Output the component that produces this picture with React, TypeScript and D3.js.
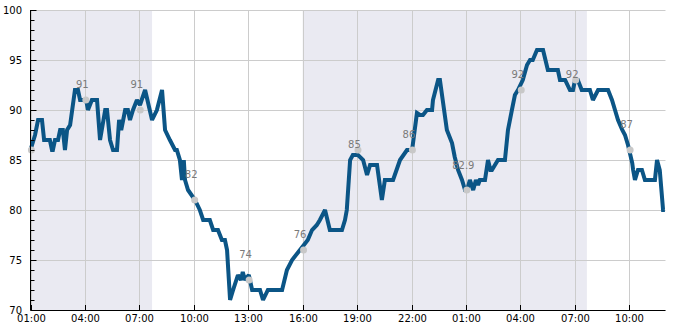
import React from "react";
import * as d3 from "d3";

const times: string[] = [
  "01-01 01:00","01-01 01:15","01-01 01:25","01-01 01:38","01-01 01:45","01-01 02:04","01-01 02:11","01-01 02:14","01-01 02:21","01-01 02:31",
  "01-01 02:38","01-01 02:47","01-01 02:54","01-01 03:01","01-01 03:11","01-01 03:27","01-01 03:37","01-01 03:44","01-01 04:04","01-01 04:10",
  "01-01 04:23","01-01 04:40","01-01 04:50","01-01 05:07","01-01 05:13","01-01 05:23","01-01 05:33","01-01 05:46","01-01 05:53","01-01 06:00",
  "01-01 06:13","01-01 06:22","01-01 06:29","01-01 06:39","01-01 06:52","01-01 07:02","01-01 07:19","01-01 07:42","01-01 07:58","01-01 08:15",
  "01-01 08:25","01-01 08:41","01-01 08:58","01-01 09:04","01-01 09:14","01-01 09:21","01-01 09:27","01-01 09:31","01-01 09:41","01-01 10:04",
  "01-01 10:20","01-01 10:31","01-01 10:53","01-01 11:04","01-01 11:20","01-01 11:33","01-01 11:43","01-01 11:50","01-01 12:00","01-01 12:10",
  "01-01 12:26","01-01 12:36","01-01 12:42","01-01 12:49","01-01 13:02","01-01 13:13","01-01 13:39","01-01 13:49","01-01 14:05","01-01 14:52",
  "01-01 15:08","01-01 15:25","01-01 15:51","01-01 16:17","01-01 16:31","01-01 16:47","01-01 16:57","01-01 17:14","01-01 17:30","01-01 18:10",
  "01-01 18:20","01-01 18:26","01-01 18:37","01-01 18:46","01-01 19:03","01-01 19:20","01-01 19:33","01-01 19:43","01-01 20:06","01-01 20:22",
  "01-01 20:32","01-01 20:59","01-01 21:22","01-01 21:45","01-01 22:02","01-01 22:18","01-01 22:28","01-01 22:38","01-01 22:51","01-01 23:08",
  "01-01 23:11","01-01 23:28","01-01 23:34","01-01 23:57","01-02 00:14","01-02 00:23","01-02 00:34","01-02 00:47","01-02 00:57","01-02 01:04",
  "01-02 01:13","01-02 01:24","01-02 01:33","01-02 01:40","01-02 01:46","01-02 02:03","01-02 02:13","01-02 02:21","01-02 02:26","01-02 02:46",
  "01-02 03:09","01-02 03:19","01-02 03:32","01-02 03:42","01-02 03:52","01-02 04:08","01-02 04:22","01-02 04:32","01-02 04:41","01-02 04:55",
  "01-02 05:15","01-02 05:31","01-02 06:04","01-02 06:11","01-02 06:28","01-02 06:44","01-02 06:54","01-02 07:01","01-02 07:10","01-02 07:23",
  "01-02 07:50","01-02 08:00","01-02 08:17","01-02 08:50","01-02 09:03","01-02 09:13","01-02 09:23","01-02 09:37","01-02 09:46","01-02 09:56",
  "01-02 10:10","01-02 10:13","01-02 10:19","01-02 10:29","01-02 10:42","01-02 10:52","01-02 11:25","01-02 11:32","01-02 11:41","01-02 11:52",
  "01-02 11:58",
];

const values: number[] = [
  86, 87.5, 89, 89, 87, 87, 86, 86, 87, 87,
  88, 88, 86, 88, 88.5, 92, 92, 91, 91, 90,
  91, 91, 87, 90, 90, 87, 86, 86, 89, 88,
  90, 90, 89, 90, 91, 90.5, 92, 89, 90, 92,
  88, 87, 86, 86, 85, 83, 85, 83, 82, 81,
  80, 79, 79, 78, 78, 77, 77, 76, 71, 72,
  73.5, 73, 73.8, 73, 73.5, 72, 72, 71, 72, 72,
  74, 75, 76, 77, 78, 78.5, 79, 80, 78, 78,
  79, 80, 85, 85.5, 85.5, 85, 83.5, 84.5, 84.5, 81,
  83, 83, 85, 86, 86, 89.7, 89.5, 89.5, 90, 90,
  91, 93, 93, 88, 86.7, 85.3, 84, 83, 82, 82,
  83, 82, 83, 82.5, 83, 83, 85, 84, 84, 85,
  85, 88, 90, 91.5, 92, 93, 94.5, 95, 95, 96,
  96, 94, 94, 93, 93, 92, 92, 93, 93, 92,
  92, 91, 92, 92, 91, 90, 89, 88, 87.5, 86.5,
  84.7, 84, 83, 84, 84, 83, 83, 85, 84, 80,
  80,
];

const markerTimes: string[] = [
  "01-01 01:03","01-01 04:03","01-01 07:03","01-01 10:03","01-01 13:03","01-01 16:03",
  "01-01 19:03","01-01 22:03","01-02 01:03","01-02 04:03","01-02 07:03","01-02 10:03",
];
const markerValues: number[] = [86, 91, 90, 81, 73, 76, 86, 86, 82, 92, 93, 86];
const markerLabels: string[] = ["", "91", "91", "82", "74", "76", "85", "86", "82.9", "92", "92", "87"];

const nightStarts: string[] = ["01-01 01:00", "01-01 16:00"];
const nightEnds: string[] = ["01-01 07:42", "01-02 07:40"];

const domainStart = "01-01 01:00";
const domainEnd = "01-02 12:00";
const xTickTimes: string[] = [
  "01-01 01:00","01-01 04:00","01-01 07:00","01-01 10:00","01-01 13:00","01-01 16:00",
  "01-01 19:00","01-01 22:00","01-02 01:00","01-02 04:00","01-02 07:00","01-02 10:00",
];
const yMajorTicks: number[] = [70, 75, 80, 85, 90, 95, 100];

const parse = (s: string) => d3.timeParse("%Y-%m-%d %H:%M")("2024-" + s) as Date;
const fmt = d3.timeFormat("%H:%M");

export default function App() {
  const W = 685, H = 330;
  const L = 30.5, R = 665.5, T = 10, B = 310;
  const x = d3.scaleTime().domain([parse(domainStart), parse(domainEnd)]).range([L, R]);
  const y = d3.scaleLinear().domain([70, 100]).range([B, T]);
  const pts = times.map((t, i) => [x(parse(t)), y(values[i])] as [number, number]);
  const line = d3.line().curve(d3.curveLinear)(pts) || "";
  const minorTicks = d3.range(70, 101, 1);
  const font = "'DejaVu Sans', sans-serif";

  return (
    <svg width={W} height={H} style={{ position: "absolute", left: 0, top: 0, background: "#fff" }} fontFamily={font}>
      {nightStarts.map((s, i) => (
        <rect key={"n" + i} x={x(parse(s))} y={T} width={x(parse(nightEnds[i])) - x(parse(s))} height={B - T} fill="#eaeaf2" />
      ))}
      {yMajorTicks.map((v) => (
        <line key={"gy" + v} x1={L} x2={R} y1={Math.round(y(v)) + 0.5} y2={Math.round(y(v)) + 0.5} stroke="#cccccc" strokeWidth={1} />
      ))}
      {xTickTimes.map((t) => {
        const xx = Math.round(x(parse(t))) + 0.5;
        return <line key={"gx" + t} x1={xx} x2={xx} y1={T} y2={B} stroke="#cccccc" strokeWidth={1} />;
      })}
      <path d={line} fill="none" stroke="#0b5586" strokeWidth={4} strokeLinejoin="miter" strokeMiterlimit={2} strokeLinecap="butt" />
      {markerTimes.map((t, i) => (
        <circle key={"m" + i} cx={x(parse(t))} cy={y(markerValues[i])} r={3.5} fill="#c8c8c8" />
      ))}
      {markerLabels.map((lab, i) =>
        lab ? (
          <text key={"l" + i} x={x(parse(markerTimes[i])) - 3.5} y={y(parseFloat(lab)) - 12} textAnchor="middle" fontSize={10} fill="#7a7a7a">
            {lab}
          </text>
        ) : null
      )}
      <line x1={L} x2={L} y1={T} y2={B} stroke="#000" strokeWidth={1} />
      <line x1={L} x2={R} y1={B + 0.5} y2={B + 0.5} stroke="#000" strokeWidth={1} />
      {minorTicks.map((v) => {
        const yy = Math.round(y(v)) + 0.5;
        const major = v % 5 === 0;
        return <line key={"ty" + v} x1={L} x2={L + (major ? 6 : 4)} y1={yy} y2={yy} stroke="#000" strokeWidth={1} />;
      })}
      {yMajorTicks.map((v) => (
        <text key={"yl" + v} x={22} y={y(v) + 3.5} textAnchor="end" fontSize={10} fill="#000">
          {v}
        </text>
      ))}
      {xTickTimes.map((t) => {
        const xx = Math.round(x(parse(t))) + 0.5;
        return (
          <g key={"tx" + t}>
            <line x1={xx} x2={xx} y1={B - 5} y2={B} stroke="#000" strokeWidth={1} />
            <text x={xx} y={322} textAnchor="middle" fontSize={10} fill="#000">
              {fmt(parse(t))}
            </text>
          </g>
        );
      })}
    </svg>
  );
}
